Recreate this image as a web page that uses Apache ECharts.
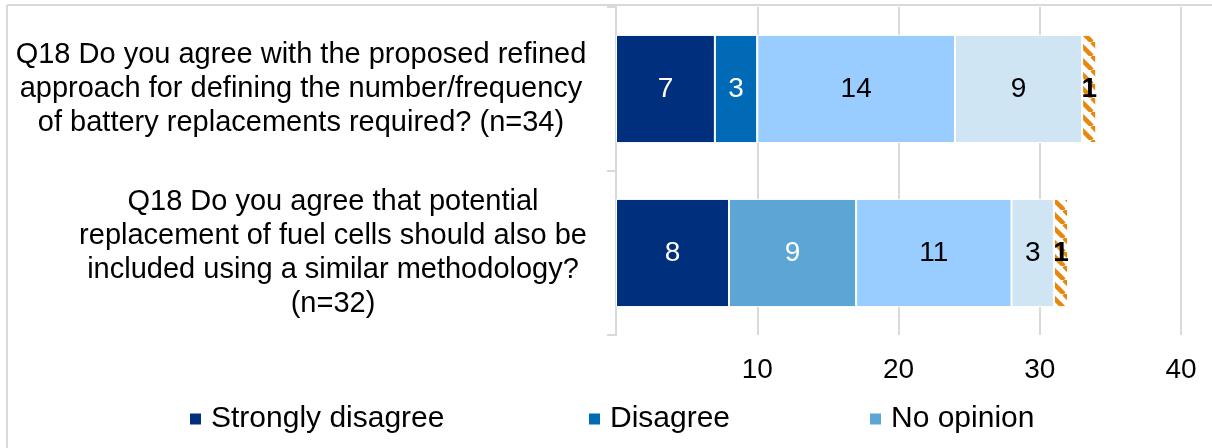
<!DOCTYPE html>
<html><head><meta charset="utf-8">
<script src="https://cdn.jsdelivr.net/npm/echarts@6/dist/echarts.min.js"></script>
<style>html,body{margin:0;padding:0;background:#fff}#c{width:1212px;height:448px}</style>
</head><body><div id="c"></div>
<script>
const categories = [
  "Q18 Do you agree with the proposed refined\napproach for defining the number/frequency\nof battery replacements required? (n=34)",
  "Q18 Do you agree that potential\nreplacement of fuel cells should also be\nincluded using a similar methodology?\n(n=32)"
];
const seriesNames = ["Strongly disagree", "Disagree", "No opinion", "Agree", "Strongly agree", "Don't know"];
const stronglyDisagree = [7, 8];
const disagree = [3, 0];
const noOpinion = [0, 9];
const agree = [14, 11];
const stronglyAgree = [9, 3];
const dontKnow = [1, 1];
const legendNames = ["Strongly disagree", "Disagree", "No opinion"];

const FONT = "'Liberation Sans', Arial, sans-serif";

function hatch() {
  const s = 14;
  const c = document.createElement('canvas'); c.width = s; c.height = s;
  const g = c.getContext('2d');
  g.fillStyle = '#fff'; g.fillRect(0, 0, s, s);
  g.strokeStyle = '#e8870e'; g.lineWidth = 4.5;
  for (const o of [-s, 0, s]) { g.beginPath(); g.moveTo(o, 0); g.lineTo(o + s, s); g.stroke(); }
  return c;
}

const colors = ['#00307d', '#006ab6', '#5ba6d5', '#99ccff', '#d0e5f3', { image: hatch(), repeat: 'repeat' }];
const labelColors = ['#fff', '#fff', '#fff', '#000', '#000', '#000'];
const values = [stronglyDisagree, disagree, noOpinion, agree, stronglyAgree, dontKnow];

const series = seriesNames.map((name, i) => ({
  name: name,
  type: 'bar',
  stack: 'total',
  barCategoryGap: '34%',
  data: values[i],
  itemStyle: { color: colors[i], borderColor: '#fff', borderWidth: 1 },
  label: {
    show: true,
    position: 'inside',
    color: labelColors[i],
    fontFamily: FONT,
    fontSize: 28,
    fontWeight: i === 5 ? 'bold' : 'normal',
    formatter: p => (p.value === 0 ? '' : String(p.value))
  },
  emphasis: { disabled: true }
}));

const legendLefts = [188, 587, 868];
const legends = legendNames.map((n, i) => ({
  data: [n],
  left: legendLefts[i],
  top: 404,
  padding: 0,
  itemWidth: 13,
  itemHeight: 13,
  icon: 'rect',
  selectedMode: false,
  textStyle: { fontFamily: FONT, fontSize: 30, color: '#000', padding: [0, 0, 0, 4] }
}));

const chart = echarts.init(document.getElementById('c'), null, { renderer: 'canvas' });
chart.setOption({
  animation: false,
  backgroundColor: '#fff',
  color: colors,
  legend: legends,
  grid: { left: 616, right: 31, top: 7, bottom: 113, containLabel: false, outerBoundsMode: 'none' },
  xAxis: {
    type: 'value', min: 0, max: 40, interval: 10,
    axisLine: { show: false }, axisTick: { show: false },
    splitLine: { show: true, lineStyle: { color: '#d9d9d9', width: 2 } },
    axisLabel: { show: true, showMinLabel: false, fontFamily: FONT, fontSize: 28, color: '#000', margin: 21,
      formatter: v => (v === 0 ? '' : String(v)) }
  },
  yAxis: {
    type: 'category', inverse: true, data: categories,
    axisLine: { show: true, lineStyle: { color: '#d9d9d9', width: 2 } },
    axisTick: { show: true, length: 9, lineStyle: { color: '#d9d9d9', width: 2 } },
    splitLine: { show: false },
    axisLabel: {
      margin: 25, align: 'right',
      formatter: (v, i) => (i === 0 ? '{a|' + v + '}' : '{b|' + v + '}'),
      rich: {
        a: { width: 580, align: 'center', fontFamily: FONT, fontSize: 29, lineHeight: 34, color: '#000' },
        b: { width: 516, align: 'center', fontFamily: FONT, fontSize: 29, lineHeight: 34, color: '#000' }
      }
    }
  },
  graphic: [
    { type: 'line', shape: { x1: 7, y1: 5, x2: 1212, y2: 5 }, style: { stroke: '#d9d9d9', lineWidth: 2 }, silent: true },
    { type: 'line', shape: { x1: 7, y1: 5, x2: 7, y2: 448 }, style: { stroke: '#d9d9d9', lineWidth: 2 }, silent: true }
  ],
  series: series
});
</script>
</body></html>
